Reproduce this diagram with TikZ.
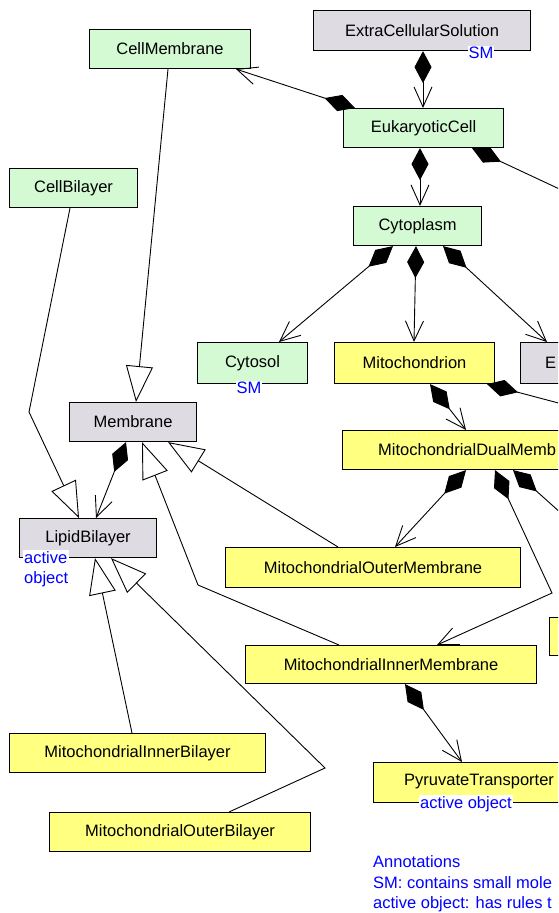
\documentclass[tikz,border=0pt]{standalone}
\usepackage{fontspec}
\setmainfont{Liberation Sans}
\usetikzlibrary{arrows.meta}
\newcommand\dfont{\fontsize{16.5}{20}\selectfont}
\definecolor{gfill}{RGB}{212,250,212}
\definecolor{kfill}{RGB}{222,220,226}
\definecolor{yfill}{RGB}{255,255,128}
\begin{document}
\begin{tikzpicture}[x=1pt,y=-1pt,
  box/.style={draw=black, line width=1.1pt, anchor=north west, inner sep=0pt, font=\dfont},
  gbox/.style={box, fill=gfill},
  kbox/.style={box, fill=kfill},
  ybox/.style={box, fill=yfill},
  lbl/.style={text=blue, fill=white, inner sep=1pt, font=\dfont},
  txt/.style={inner sep=0pt, font=\dfont},
  conn/.style={line width=0.9pt, line join=miter},
  comp/.style={conn, {Diamond[length=32pt,width=17pt]}-{Straight Barb[length=20pt,width=18pt,line width=0.9pt]}},
  compx/.style={conn, {Diamond[length=32pt,width=17pt]}-},
  gen/.style={conn, -{Triangle[length=36pt,width=27pt,fill=white,line width=0.9pt]}}
]
\useasboundingbox (0,0) rectangle (558,913);
\clip (0,0) rectangle (558,913);
\fill[white] (0,0) rectangle (558,913);

% boxes
\node[kbox, minimum width=217pt, minimum height=40pt] (ecs) at (313,10) {ExtraCellularSolution};
\node[gbox, minimum width=161pt, minimum height=39pt] (cm) at (89,29) {CellMembrane};
\node[gbox, minimum width=160pt, minimum height=39pt] (euk) at (343,108) {EukaryoticCell};
\node[gbox, minimum width=128pt, minimum height=39pt] (cb) at (9,168) {CellBilayer};
\node[gbox, minimum width=128pt, minimum height=39pt] (cyto) at (353,206) {Cytoplasm};
\node[gbox, minimum width=110pt, minimum height=41pt] (cytosol) at (197,342) {Cytosol};
\node[ybox, minimum width=160pt, minimum height=41pt] (mito) at (334,342) {Mitochondrion};
\node[kbox, minimum width=100pt, minimum height=41pt] (ebox) at (520,342) {};
\node[txt, anchor=west] (eboxt) at (545,362.5) {E};
\node[kbox, minimum width=127pt, minimum height=39pt] (mem) at (69,402) {Membrane};
\node[ybox, minimum width=260pt, minimum height=39pt] (dual) at (342,430) {};
\node[txt, anchor=west] (dualt) at (378,449.5) {MitochondrialDualMemb};
\node[kbox, minimum width=137pt, minimum height=39pt] (lb) at (19,518) {LipidBilayer};
\node[ybox, minimum width=295pt, minimum height=40pt] (mom) at (225,547) {MitochondrialOuterMembrane};
\node[ybox, minimum width=60pt, minimum height=38pt] (sbox) at (549,617) {};
\node[ybox, minimum width=291pt, minimum height=38pt] (mim) at (245,645) {MitochondrialInnerMembrane};
\node[ybox, minimum width=256pt, minimum height=39pt] (mib) at (9,733) {MitochondrialInnerBilayer};
\node[ybox, minimum width=230pt, minimum height=40pt] (pyr) at (373,762) {};
\node[txt, anchor=west] (pyrt) at (404,782) {PyruvateTransporter};
\node[ybox, minimum width=261pt, minimum height=39pt] (mob) at (49,812) {MitochondrialOuterBilayer};

% blue labels
\node[lbl] (ecssm) at (481,53) {SM};
\node[lbl] (cytosolsm) at (249,388) {SM};
\node[lbl, anchor=north west, align=left] (lbact) at (23,550) {active\\object};
\node[lbl] (pyract) at (466,804) {active object};
\node[txt, text=blue, anchor=base west] (ann1) at (373,867) {Annotations};
\node[txt, text=blue, anchor=base west] (ann2) at (373,888) {SM: contains small mole};
\node[txt, text=blue, anchor=base west] (ann3) at (373,908) {active object: has rules t};

% free ends off the right edge
\coordinate (offA) at (600,208);
\coordinate (offB) at (600,414);
\coordinate (offC) at (600,548);
\coordinate (bendcb) at (29,412);
\coordinate (bendmim) at (198,585);
\coordinate (benddual) at (552,593);
\coordinate (bendmob) at (325,768);

% compositions
\draw[comp] ([xshift=110pt]ecs.south west) -- ([xshift=80pt]euk.north west);
\draw[comp] ([xshift=12pt]euk.north west) -- ([xshift=147pt]cm.south west);
\draw[comp] ([xshift=77pt]euk.south west) -- ([xshift=67pt]cyto.north west);
\draw[compx] ([xshift=129pt]euk.south west) -- (offA);
\draw[comp] ([xshift=40pt]cyto.south west) -- ([xshift=82pt]cytosol.north west);
\draw[comp] ([xshift=63pt]cyto.south west) -- ([xshift=80pt]mito.north west);
\draw[comp] ([xshift=90pt]cyto.south west) -- ([xshift=27pt]ebox.north west);
\draw[comp] ([xshift=96pt]mito.south west) -- ([xshift=124pt]dual.north west);
\draw[compx] ([xshift=153pt]mito.south west) -- (offB);
\draw[comp] ([xshift=57pt]mem.south west) -- ([xshift=77pt]lb.north west);
\draw[comp] ([xshift=124pt]dual.south west) -- ([xshift=170pt]mom.north west);
\draw[comp] ([xshift=153pt]dual.south west) -- (benddual) -- ([xshift=192pt]mim.north west);
\draw[compx] ([xshift=171pt]dual.south west) -- (offC);
\draw[comp] ([xshift=160pt]mim.south west) -- ([xshift=89pt]pyr.north west);

% generalizations
\draw[gen] ([xshift=79pt]cm.south west) -- ([xshift=67pt]mem.north west);
\draw[gen] ([xshift=61pt]cb.south west) -- (bendcb) -- ([xshift=60pt]lb.north west);
\draw[gen] ([xshift=113pt]mom.north west) -- ([xshift=99pt]mem.south west);
\draw[gen] ([xshift=94pt]mim.north west) -- (bendmim) -- ([xshift=73pt]mem.south west);
\draw[gen] ([xshift=123pt]mib.north west) -- ([xshift=76pt]lb.south west);
\draw[gen] ([xshift=180pt]mob.north west) -- (bendmob) -- ([xshift=92pt]lb.south west);
\end{tikzpicture}
\end{document}
